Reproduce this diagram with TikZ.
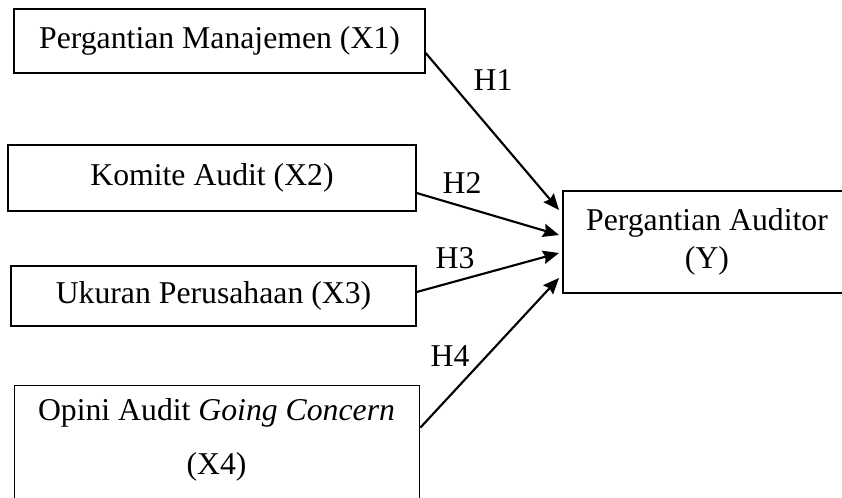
\documentclass[tikz,border=0pt]{standalone}
\usepackage{fontspec}
\setmainfont{Liberation Serif}
\usetikzlibrary{arrows.meta}

\tikzset{
  varbox/.style={draw, line width=1pt, inner sep=0pt, align=center,
    font=\fontsize{23.8}{28.5}\selectfont},
  hyparrow/.style={line width=1.6pt, -{Stealth[length=12pt,width=10pt,inset=1.5pt]}},
  hyplabel/.style={inner sep=0.75pt, font=\fontsize{23.8}{28}\selectfont}
}

\begin{document}
\begin{tikzpicture}[x=0.75pt,y=0.75pt,yscale=-1,xscale=1]
\useasboundingbox (0,0) rectangle (842,498);
\clip (0,0) rectangle (842,498);

% Variable boxes
\node [varbox, minimum width=308.25pt, minimum height=48pt] (x1) at (219.5,41) {Pergantian Manajemen (X1)};
\node [varbox, minimum width=306pt, minimum height=49.5pt] (x2) at (212,178) {Komite Audit (X2)};
\node [varbox, minimum width=303.75pt, minimum height=45pt] (x3) at (213.5,296) {Ukuran Perusahaan (X3)};
\node [varbox, minimum width=303.75pt, minimum height=120pt, anchor=north west] (x4) at (14,385) {};
\node [anchor=north, align=center, inner sep=0pt, font=\fontsize{23.8}{41}\selectfont] (x4txt) at (216.5,398) {Opini Audit \textit{Going Concern}\\(X4)};
\node [varbox, minimum width=216pt, minimum height=76.5pt] (y) at (707,242) {Pergantian Auditor\\(Y)};

% Arrow ends
\coordinate (t1) at (559,210);
\coordinate (t2) at (559,235);
\coordinate (t3) at (559,253);
\coordinate (t4) at (559,278);

% Hypotheses
\draw [hyparrow] ([yshift=9pt]x1.east) -- (t1);
\draw [hyparrow] ([yshift=11.25pt]x2.east) -- (t2);
\draw [hyparrow] ([yshift=-3pt]x3.east) -- (t3);
\draw [hyparrow] ([yshift=32pt]x4.north east) -- (t4);

% Labels
\node [hyplabel] (h1) at (493,80) {H1};
\node [hyplabel] (h2) at (462,183) {H2};
\node [hyplabel] (h3) at (455,258) {H3};
\node [hyplabel] (h4) at (450,356) {H4};

\end{tikzpicture}
\end{document}
